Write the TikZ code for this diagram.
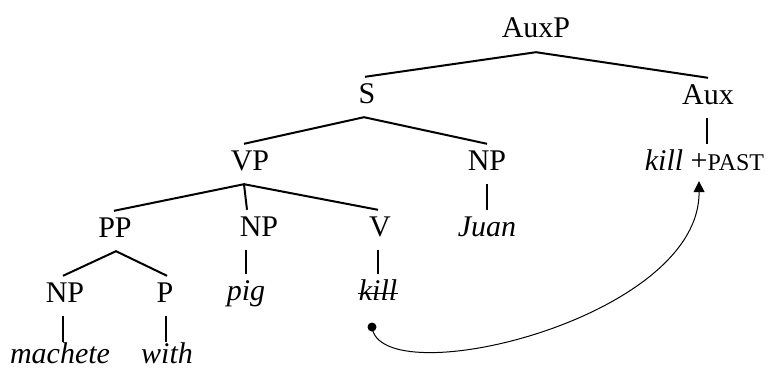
\documentclass[tikz,border=0pt]{standalone}
\usepackage{fontspec}
\setmainfont{Liberation Serif}
\usetikzlibrary{arrows.meta}
\begin{document}
\begin{tikzpicture}[x=1pt,y=-1pt,
  lbl/.style={anchor=base,font=\fontsize{30}{36}\selectfont,text height=20pt,text depth=8pt,inner xsep=0pt,inner ysep=6pt},
  lastrow/.style={lbl,text depth=0pt,inner ysep=1pt},
  branch/.style={line width=2pt},
  mover/.style={line width=1pt,-{Triangle[length=11pt,width=11pt]}}]
\useasboundingbox (0,0) rectangle (769,369);
% nodes
\node[lbl] (auxp) at (536,38) {AuxP};
\node[lbl] (s) at (367,103) {S};
\node[lbl] (aux) at (708,104) {Aux};
\node[lbl] (vp) at (250,170) {VP};
\node[lbl] (npj) at (487,170) {NP};
\node[lbl] (kp) at (704.5,170) {\textit{kill} +{\fontsize{24}{28}\selectfont PAST}};
\node[lbl] (pp) at (115,237) {PP};
\node[lbl] (npp) at (259,236) {NP};
\node[lbl] (v) at (380,236) {V};
\node[lbl] (juan) at (487,236) {\textit{Juan}};
\node[lbl] (npm) at (65,302) {NP};
\node[lbl] (p) at (165,302) {P};
\node[lbl] (pig) at (246,300) {\textit{pig}};
\node[lbl] (kill) at (378,300) {\textit{kill}};
\node[lastrow] (mach) at (60,363) {\textit{machete}};
\node[lastrow] (with) at (167,363) {\textit{with}};
\node[circle,fill,inner sep=0pt,minimum size=9pt] (dot) at (372,327) {};
% strike through kill
\draw[line width=1pt] ([yshift=7pt,xshift=-1pt]kill.base west) -- ([yshift=7pt,xshift=1pt]kill.base east);
% branches
\draw[branch] ([xshift=-2pt]s.north) -- (auxp.south) -- (aux.north);
\draw[branch] ([xshift=-6pt]vp.north) -- ([xshift=-3pt]s.south) -- (npj.north);
\draw[branch] ([xshift=-1pt]pp.north) -- ([xshift=-6pt]vp.south) -- ([xshift=-12pt]npp.north);
\draw[branch] ([xshift=-6pt]vp.south) -- ([xshift=-2pt]v.north);
\draw[branch] ([xshift=-2pt]npm.north) -- ([xshift=1pt]pp.south) -- ([xshift=2pt]p.north);
% unary branches
\draw[branch] ([xshift=-1pt]aux.south) -- ([xshift=-1pt]aux.south |- kp.north);
\draw[branch] (npj.south) -- (juan.north);
\draw[branch] (pig.north |- npp.south) -- (pig.north);
\draw[branch] ([xshift=-2pt]v.south) -- ([xshift=-2pt]v.south |- kill.north);
\draw[branch] ([xshift=-2pt]npm.south) -- ([xshift=-2pt]npm.south |- mach.north);
\draw[branch] ([xshift=1pt]p.south) -- ([xshift=1pt]p.south |- with.north);
% movement arrow
\draw[mover] (dot.center) .. controls (380,395) and (700,320) .. ([xshift=-5.5pt,yshift=3pt]kp.south);
\end{tikzpicture}
\end{document}
